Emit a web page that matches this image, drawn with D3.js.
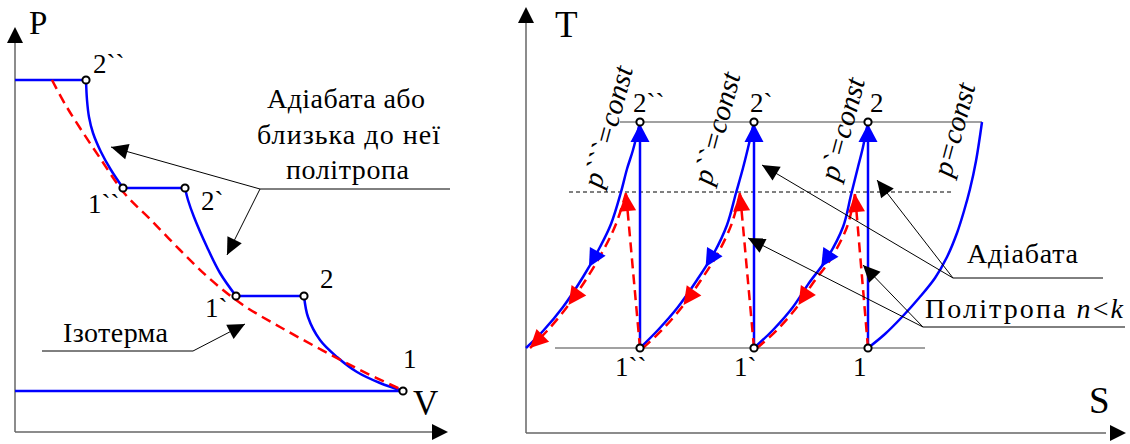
<!DOCTYPE html>
<html>
<head>
<meta charset="utf-8">
<script src="https://cdn.jsdelivr.net/npm/d3@7"></script>
</head>
<body style="margin:0">
<svg id="c" width="1130" height="444"></svg>
<script>
// ---------- P-V diagram (drawing units, no real scale) ----------
var pvStates = [
  { name: "2``", V: 7.1,  P: 35.2 },
  { name: "1``", V: 10.8, P: 24.4 },
  { name: "2`",  V: 17.0, P: 24.4 },
  { name: "1`",  V: 22.1, P: 13.6 },
  { name: "2",   V: 28.9, P: 13.6 },
  { name: "1",   V: 38.8, P: 4.1 }
];
// p = const segments
var pvIsobars = [
  { P: 35.2, V0: 0,    V1: 7.1 },
  { P: 24.4, V0: 10.8, V1: 17.0 },
  { P: 13.6, V0: 22.1, V1: 28.9 },
  { P: 4.1,  V0: 0,    V1: 38.8 }
];
// compression curves (adiabat / polytrope)
var pvAdiabats = [
  [[7.1, 35.2], [7.2, 33.2], [7.4, 31.5], [7.8, 29.9], [8.6, 28.0], [9.6, 26.2], [10.8, 24.4]],
  [[17.0, 24.4], [17.3, 23.2], [17.9, 21.5], [19.2, 18.5], [20.5, 15.9], [22.1, 13.6]],
  [[28.9, 13.6], [29.3, 11.5], [30.5, 9.2], [32.2, 7.5], [34.2, 6.0], [36.5, 4.9], [38.8, 4.1]]
];
var pvIsotherm = [[3.7, 35.2], [5.0, 32.8], [6.5, 30.4], [8.5, 27.4], [11.0, 23.8], [13.5, 21.3],
  [16.5, 18.2], [19.5, 15.3], [22.8, 12.7], [26.5, 10.5], [30.5, 8.3], [34.5, 6.2], [38.5, 4.3]];

// ---------- T-S diagram ----------
var tLow = 8.5, tHigh = 31.1, tCut = 24.1;
var tsStates = [
  { name: "1``", S: 11.4, T: 8.5 },  { name: "1`", S: 22.8, T: 8.5 },  { name: "1", S: 34.2, T: 8.5 },
  { name: "2``", S: 11.4, T: 31.1 }, { name: "2`", S: 22.8, T: 31.1 }, { name: "2", S: 34.2, T: 31.1 }
];
var adiabatS = [11.4, 22.8, 34.2];
var isobarLabels = ["p```=const", "p``=const", "p`=const", "p=const"];
var isobarCurves = [
  [[0.0, 8.5], [1.7, 10.2], [3.7, 12.6], [5.7, 15.6], [7.4, 18.6], [8.5, 20.9], [9.5, 24.1], [10.1, 26.4], [10.7, 28.3], [11.4, 31.1]],
  [[11.4, 8.5], [13.2, 10.3], [15.2, 12.6], [17.1, 15.3], [18.8, 18.0], [20.1, 20.8], [21.0, 24.0], [21.7, 26.5], [22.2, 28.5], [22.8, 31.1]],
  [[22.8, 8.5], [24.7, 10.3], [26.7, 12.6], [28.3, 15.0], [30.0, 17.3], [31.7, 20.6], [32.5, 23.8], [33.2, 26.6], [33.7, 28.6], [34.2, 31.1]],
  [[34.2, 8.5], [35.9, 9.9], [37.6, 11.6], [39.3, 13.5], [40.9, 15.5], [42.1, 17.6], [43.1, 20.0], [43.8, 22.2], [44.4, 24.4], [45.0, 27.2], [45.6, 31.1]]
];
// polytrope n<k: rise from state 1 to the cut level, then back down along the isobar
var polyRise = [
  [[11.4, 8.5], [10.0, 24.0]],
  [[22.8, 8.5], [21.4, 24.0]],
  [[34.2, 8.5], [32.9, 23.9]]
];
var polyFall = [
  [[10.0, 24.0], [9.0, 20.9], [7.8, 18.4], [6.1, 15.5], [4.1, 12.6], [2.1, 10.2], [0.4, 8.5]],
  [[21.4, 24.0], [20.6, 21.0], [19.2, 18.0], [17.5, 15.3], [15.6, 12.6], [13.6, 10.3], [11.7, 8.5]],
  [[32.9, 23.9], [32.1, 20.6], [30.4, 17.3], [28.7, 15.0], [27.1, 12.6], [25.1, 10.3], [23.1, 8.5]]
];

var BLUE = "#0000ff", RED = "#ff0000", AXIS = "#666";
var FONT = "Liberation Serif";
var svg = d3.select("#c");

var xV = d3.scaleLinear().domain([0, 43.3]).range([15, 448]);
var yP = d3.scaleLinear().domain([0, 40.5]).range([432, 27]);
var xS = d3.scaleLinear().domain([0, 60]).range([526, 1126]);
var yT = d3.scaleLinear().domain([0, 42.6]).range([433, 7]);

function curveLine(sx, sy) {
  return d3.line().x(function(d) { return sx(d[0]); }).y(function(d) { return sy(d[1]); })
    .curve(d3.curveCatmullRom.alpha(0.5));
}

// filled triangle, tip at `tip`, centre of the base at `base`
function tri(g, tip, base, half, color) {
  var dx = tip[0] - base[0], dy = tip[1] - base[1], L = Math.hypot(dx, dy);
  var nx = -dy / L * half, ny = dx / L * half;
  g.append("path")
    .attr("d", "M" + tip + "L" + [base[0] + nx, base[1] + ny] + "L" + [base[0] - nx, base[1] - ny] + "Z")
    .attr("fill", color);
}
function headFrom(g, from, tip, len, half, color) {
  var dx = tip[0] - from[0], dy = tip[1] - from[1], L = Math.hypot(dx, dy);
  tri(g, tip, [tip[0] - dx / L * len, tip[1] - dy / L * len], half, color);
}
// arrow on a path; back > 0 points forward along the path, back < 0 points backwards
function onPath(g, node, lTip, back, half, color) {
  var p = node.getPointAtLength(lTip), q = node.getPointAtLength(lTip - back);
  tri(g, [p.x, p.y], [q.x, q.y], half, color);
}
function lengthAtY(node, y) {
  var lo = 0, hi = node.getTotalLength();
  var up = node.getPointAtLength(hi).y < node.getPointAtLength(0).y;
  for (var i = 0; i < 40; i++) {
    var mid = (lo + hi) / 2, py = node.getPointAtLength(mid).y;
    if ((py > y) === up) lo = mid; else hi = mid;
  }
  return (lo + hi) / 2;
}
function leader(g, hub, tip) {
  g.append("line").attr("x1", hub[0]).attr("y1", hub[1]).attr("x2", tip[0]).attr("y2", tip[1])
    .attr("stroke", "#000").attr("stroke-width", 1);
  headFrom(g, hub, tip, 17, 8, "#000");
}
function hline(g, x0, x1, y, color, w) {
  return g.append("line").attr("x1", x0).attr("x2", x1).attr("y1", y).attr("y2", y)
    .attr("stroke", color).attr("stroke-width", w);
}
// texts go straight onto the svg root
function label(x, y, size, s, width) {
  var t = svg.append("text").attr("x", x).attr("y", y).attr("font-size", size)
    .style("font-family", FONT).text(s);
  if (width) t.attr("textLength", width).attr("lengthAdjust", "spacing");
  return t;
}
// axis pair with arrowheads, drawn from the scales' ranges
function axes(g, sx, sy, xEnd, yEnd) {
  var x0 = sx.range()[0], y0 = sy.range()[0];
  hline(g, x0, sx(xEnd), y0, AXIS, 1.5);
  g.append("line").attr("x1", x0).attr("x2", x0).attr("y1", y0).attr("y2", sy(yEnd))
    .attr("stroke", AXIS).attr("stroke-width", 1.5);
  tri(g, [sx.range()[1], y0], [sx.range()[1] - 16, y0], 8, "#000");
  tri(g, [x0, sy.range()[1]], [x0, sy.range()[1] + 16], 8, "#000");
}

// ================= P-V =================
var pv = svg.append("g");
axes(pv, xV, yP, 42, 39);

pv.selectAll(".isobar").data(pvIsobars).enter().append("line")
  .attr("x1", function(d) { return xV(d.V0); }).attr("x2", function(d) { return xV(d.V1); })
  .attr("y1", function(d) { return yP(d.P); }).attr("y2", function(d) { return yP(d.P); })
  .attr("stroke", BLUE).attr("stroke-width", 2.5);
pv.selectAll(".adiabat").data(pvAdiabats).enter().append("path")
  .attr("d", curveLine(xV, yP)).attr("fill", "none").attr("stroke", BLUE).attr("stroke-width", 2.5);
pv.append("path").datum(pvIsotherm).attr("d", curveLine(xV, yP)).attr("fill", "none")
  .attr("stroke", RED).attr("stroke-width", 2.5).attr("stroke-dasharray", "10,6");

// annotations
var hub = [xV(24.5), yP(24.3)];
hline(pv, hub[0], xV(43.5), hub[1], "#000", 1);
leader(pv, hub, [xV(9.6), yP(28.5)]);
leader(pv, hub, [xV(21.2), yP(17.7)]);
var isoHub = [xV(17.8), yP(8.1)];
hline(pv, xV(2.7), isoHub[0], isoHub[1], "#000", 1);
leader(pv, isoHub, [xV(23.0), yP(10.8)]);

pv.selectAll(".pt").data(pvStates).enter().append("circle")
  .attr("cx", function(d) { return xV(d.V); }).attr("cy", function(d) { return yP(d.P); })
  .attr("r", 3.6).attr("fill", "#fff").attr("stroke", "#000").attr("stroke-width", 2);

// ================= T-S =================
var ts = svg.append("g");
axes(ts, xS, yT, 58, 41);

hline(ts, xS(9.4), xS(45.6), yT(tHigh), "#444", 1.2);
hline(ts, xS(2.9), xS(39.9), yT(tLow), "#444", 1.2);
hline(ts, xS(4.3), xS(42.6), yT(tCut), "#000", 1).attr("stroke-dasharray", "4,3");

var isoPaths = ts.selectAll(".tsIso").data(isobarCurves).enter().append("path")
  .attr("d", curveLine(xS, yT)).attr("fill", "none").attr("stroke", BLUE).attr("stroke-width", 2.5);
var vertPaths = ts.selectAll(".tsAd").data(adiabatS).enter().append("path")
  .attr("d", function(s) { return "M" + xS(s) + "," + yT(tLow) + "V" + yT(tHigh); })
  .attr("stroke", BLUE).attr("stroke-width", 2.5);
var risePaths = ts.selectAll(".rise").data(polyRise).enter().append("path")
  .attr("d", d3.line().x(function(d) { return xS(d[0]); }).y(function(d) { return yT(d[1]); }))
  .attr("fill", "none").attr("stroke", RED).attr("stroke-width", 2.5).attr("stroke-dasharray", "10,6");
var fallPaths = ts.selectAll(".fall").data(polyFall).enter().append("path")
  .attr("d", curveLine(xS, yT)).attr("fill", "none").attr("stroke", RED).attr("stroke-width", 2.5)
  .attr("stroke-dasharray", "10,6");

// flow arrows
isoPaths.each(function(d, i) {
  if (i > 2) return;
  onPath(ts, this, lengthAtY(this, yT(16.6)), -18, 9, BLUE);
});
vertPaths.each(function() {
  var L = this.getTotalLength();
  onPath(ts, this, L - 2, 18, 9.5, BLUE);
});
risePaths.each(function() {
  var L = this.getTotalLength();
  onPath(ts, this, L, 18, 8.5, RED);
});
fallPaths.each(function(d, i) {
  onPath(ts, this, lengthAtY(this, yT(12.8)), 18, 9, RED);
  if (i === 0) onPath(ts, this, this.getTotalLength(), 18, 9, RED);
});

// annotations
var adHub = [xS(42.7), yT(15.5)], poHub = [xS(39.7), yT(10.6)];
hline(ts, adHub[0], xS(57.7), adHub[1], "#000", 1);
hline(ts, poHub[0], xS(59.9), poHub[1], "#000", 1);
leader(ts, adHub, [xS(23.6), yT(26.8)]);
leader(ts, adHub, [xS(35.1), yT(25.3)]);
leader(ts, poHub, [xS(22.2), yT(19.5)]);
leader(ts, poHub, [xS(33.7), yT(16.8)]);

ts.selectAll(".pt").data(tsStates).enter().append("circle")
  .attr("cx", function(d) { return xS(d.S); }).attr("cy", function(d) { return yT(d.T); })
  .attr("r", 3.6).attr("fill", "#fff").attr("stroke", "#000").attr("stroke-width", 2);

// ================= texts =================
var pvLabelOff = { "2``": [7, -7], "1``": [-35, 25], "2`": [16, 22], "1`": [-31, 21], "2": [16, -8], "1": [0, -23] };
pvStates.forEach(function(d) {
  label(xV(d.V) + pvLabelOff[d.name][0], yP(d.P) + pvLabelOff[d.name][1], 27, d.name);
});
label(29, 34, 33, "P");
label(413, 415, 35, "V");
label(267, 108, 28, "Адіабата або", 158);
label(257, 143.5, 28, "близька до неї", 183);
label(286, 179, 28, "політропа", 123);
label(63, 342, 28, "Ізотерма", 105);

var tsLabelOff = { "2``": [-7, -10], "2`": [-4, -10], "2": [2, -10], "1``": [-25, 28], "1`": [-20, 28], "1": [-15, 28] };
tsStates.forEach(function(d) {
  label(xS(d.S) + tsLabelOff[d.name][0], yT(d.T) + tsLabelOff[d.name][1], 27, d.name);
});

// rotated isobar names, along the upper part of each curve
var isoLabelPos = [[601, 189], [711, 186], [838, 182], [951, 178]];
isobarLabels.forEach(function(s, i) {
  label(0, 0, 29, s).style("font-style", "italic")
    .attr("transform", "translate(" + isoLabelPos[i] + ") rotate(-75)");
});

label(555, 37, 37, "T");
label(1089, 413, 37, "S");
label(967, 263, 28, "Адіабата", 111);
var pol = label(925, 318, 28, "", 198);
pol.append("tspan").text("Політропа ");
pol.append("tspan").style("font-style", "italic").text("n");
pol.append("tspan").text("<");
pol.append("tspan").style("font-style", "italic").text("k");
</script>
</body>
</html>
